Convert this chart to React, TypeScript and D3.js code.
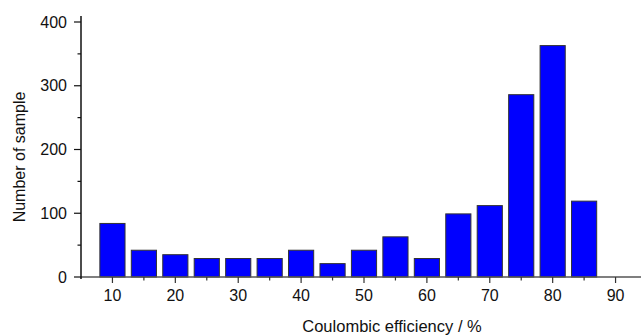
import React from "react";
import * as d3 from "d3";

const binCenters = [10, 15, 20, 25, 30, 35, 40, 45, 50, 55, 60, 65, 70, 75, 80, 85];
const counts = [84, 42, 35, 29, 29, 29, 42, 21, 42, 63, 29, 99, 112, 286, 363, 119];
const xTicks = [10, 20, 30, 40, 50, 60, 70, 80, 90];
const xMinorTicks = [15, 25, 35, 45, 55, 65, 75, 85];
const yTicks = [0, 100, 200, 300, 400];
const yMinorTicks = [50, 150, 250, 350];
const xLabel = "Coulombic efficiency / %";
const yLabel = "Number of sample";

export default function App() {
  const W = 641, H = 335;
  const x = d3.scaleLinear().domain([5, 95]).range([81, 647]);
  const y = d3.scaleLinear().domain([0, 400]).range([277, 22]);
  const binW = 4;
  const font = "'Liberation Sans', Arial, sans-serif";
  const x0 = x(5);
  return (
    <svg width={W} height={H} style={{ position: "absolute", left: 0, top: 0 }} fontFamily={font}>
      <rect width={W} height={H} fill="#fff" />
      {binCenters.map((c, i) => (
        <rect
          key={i}
          x={x(c - binW / 2)}
          y={y(counts[i])}
          width={x(c + binW / 2) - x(c - binW / 2)}
          height={y(0) - y(counts[i])}
          fill="#0000ff"
          stroke="#333"
          strokeWidth={1}
        />
      ))}
      {/* bottom axis */}
      <line x1={x0} x2={W} y1={y(0)} y2={y(0)} stroke="#555" strokeWidth={1.5} />
      {xTicks.map((t) => (
        <g key={t}>
          <line x1={x(t)} x2={x(t)} y1={y(0)} y2={y(0) + 6} stroke="#333" strokeWidth={1.2} />
          <text x={x(t)} y={301} textAnchor="middle" fontSize={16} fill="#111">{t}</text>
        </g>
      ))}
      {xMinorTicks.map((t) => (
        <line key={t} x1={x(t)} x2={x(t)} y1={y(0)} y2={y(0) + 3.5} stroke="#333" strokeWidth={1.2} />
      ))}
      {/* left axis */}
      <line x1={x0} x2={x0} y1={y(400) - 6} y2={y(0) + 2} stroke="#111" strokeWidth={1.5} />
      {yTicks.map((t) => (
        <g key={t}>
          <line x1={x0 - 7} x2={x0} y1={y(t)} y2={y(t)} stroke="#111" strokeWidth={1.2} />
          <text x={x0 - 14} y={y(t) + 5.7} textAnchor="end" fontSize={16} fill="#111">{t}</text>
        </g>
      ))}
      {yMinorTicks.map((t) => (
        <line key={t} x1={x0 - 3.5} x2={x0} y1={y(t)} y2={y(t)} stroke="#111" strokeWidth={1.2} />
      ))}
      <text x={392} y={331.5} textAnchor="middle" fontSize={16.5} fill="#111">{xLabel}</text>
      <text transform={`translate(24.5,157) rotate(-90)`} textAnchor="middle" fontSize={16} fill="#111">{yLabel}</text>
    </svg>
  );
}
